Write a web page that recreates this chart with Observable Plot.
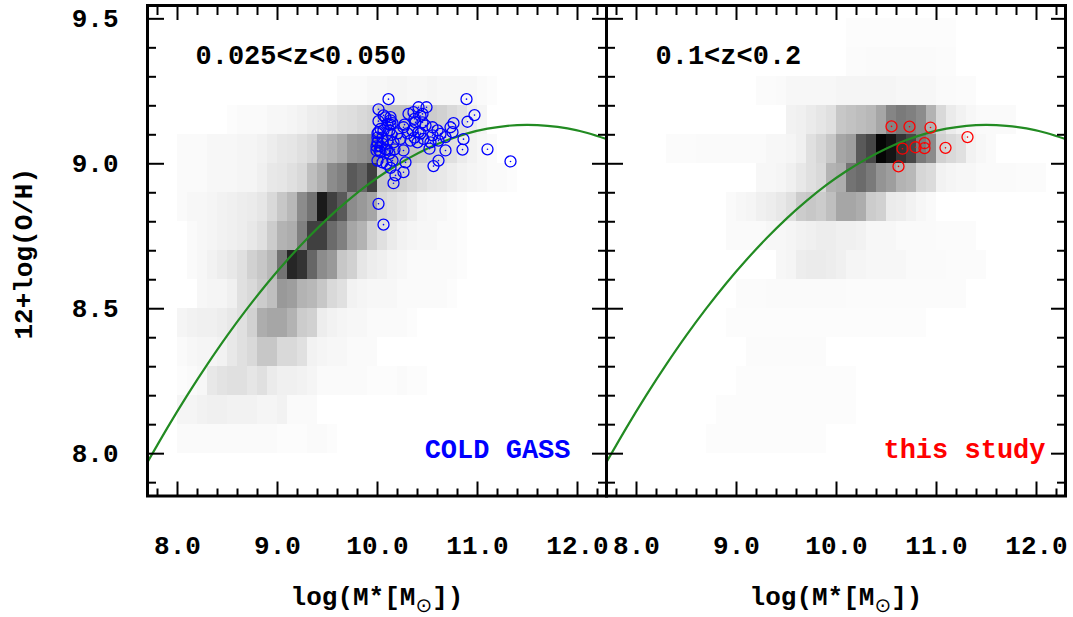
<!DOCTYPE html>
<html><head><meta charset="utf-8">
<script src="https://cdn.jsdelivr.net/npm/d3@7"></script>
<script src="https://cdn.jsdelivr.net/npm/@observablehq/plot@0.6"></script>
<style>
html,body{margin:0;padding:0;background:#fff;}
#chart svg{display:block;}
</style></head><body><div id="chart"></div>
<script>
// ---- axis ticks ----
const xMajor = [8, 9, 10, 11, 12];
const xMinor = [7.8, 8.2, 8.4, 8.6, 8.8, 9.2, 9.4, 9.6, 9.8, 10.2, 10.4, 10.6, 10.8, 11.2, 11.4, 11.6, 11.8, 12.2];
const yMajor = [8.0, 8.5, 9.0, 9.5];
const yMinor = [7.9, 8.1, 8.2, 8.3, 8.4, 8.6, 8.7, 8.8, 8.9, 9.1, 9.2, 9.3, 9.4];

// ---- 2D histogram (SDSS density, darkness 0-100) ----
// mass bins of 0.1 dex starting at 8.0 ; O/H rows of 0.1 dex (lower edges)
const massBinStart = 8.0, massBinWidth = 0.1, ohBinHeight = 0.1;
const ohRowsLeft = [9.2, 9.1, 9.0, 8.9, 8.8, 8.7, 8.6, 8.5, 8.4, 8.3, 8.2, 8.1, 8.0];
const densLeft = [
  [0,0,0,0,0,0,0,0,0,0,0,0,0,0,0,0,2,2,2,3,3,4,4,3,3,4,3,3,3,3,2,1],
  [0,0,0,0,0,1,2,2,2,3,3,4,5,7,8,10,12,13,15,17,22,24,24,22,20,20,18,15,12,7,4],
  [2,2,2,3,3,3,4,4,5,7,9,10,12,15,25,28,32,40,42,45,32,30,25,22,20,18,15,12,8,5,3,2],
  [2,2,2,3,3,3,4,4,6,9,10,12,15,25,32,45,50,65,60,75,22,20,18,15,12,10,9,7,5,4,3,2,2,1],
  [2,3,3,4,5,6,7,8,10,15,22,28,45,55,90,75,65,45,40,35,15,12,10,7,4,3,3,2,1],
  [0,2,3,4,5,6,7,9,12,20,30,32,50,75,75,58,50,35,30,18,12,8,5,4,3,3,2,2,1],
  [0,2,3,5,7,9,12,18,22,28,55,85,80,60,45,40,22,18,10,7,6,4,3,2,2,2,2,2,1],
  [0,0,3,4,4,6,12,15,20,25,40,38,30,28,22,15,12,5,4,3,3,3,2,2,2,2,2,1],
  [4,5,6,6,7,9,12,18,32,35,35,30,20,18,7,5,4,3,3,2,2,2,2,1],
  [2,3,4,4,5,9,12,15,22,22,15,15,12,5,4,3,3,2,2,2],
  [1,2,3,9,11,12,12,10,12,8,6,6,5,4,2,2,2,2,2,1,1,1,2,1,1],
  [4,4,5,6,6,5,5,5,4,4,5,2,2,2],
  [2,2,2,2,2,2,2,2,2,2,1,1,1,2,2,1]
];
const ohRowsRight = [9.4, 9.3, 9.2, 9.1, 9.0, 8.9, 8.8, 8.7, 8.6, 8.5, 8.4, 8.3, 8.2, 8.1, 8.0];
const densRight = [
  [0,0,0,0,0,0,0,0,0,0,0,0,0,0,0,0,0,0,0,0,0,1,1,1,1,1,1,1,1,1,1,1],
  [0,0,0,0,0,0,0,0,0,0,0,0,0,0,0,0,0,0,0,0,0,1.5,1.5,2,2,2,2,2,2,2,1.5,1.5],
  [0,0,0,0,0,0,0,0,0,0,0,0,1.5,1.5,2,3,3,3,3,3,4,4,4,4,4,4,3,3,3,3,2,2,1.5,1.5],
  [0,0,0,0,0,0,0,0,0,0,0,0,0,0,0,5,6,8,10,12,22,24,26,28,35,48,52,50,45,30,15,8,5,3,2,2,2,2],
  [0,0,0,1.5,1.5,1.5,2,2,2,2,2,2,2,3,3,4,6,12,16,22,35,38,65,72,98,92,80,72,52,45,18,15,12,5,3,2],
  [0,0,0,0,0,0,0,0,0,0,0,0,3,3,4,6,9,12,15,30,32,55,58,52,42,38,30,28,16,14,5,4,3,3,2,2,2,2,1.5,1.5,1.5],
  [0,0,0,0,0,0,0,0,0,2,3,4,6,7,9,12,20,22,20,25,35,35,32,20,18,8,7,5,3,2],
  [0,0,0,0,0,0,0,0,0,2,2,2,2,3,3,4,5,6,7,7,6,6,5,3,3,3,2,2,2,2,1.5,1.5,1.5,1.5],
  [0,0,0,0,0,0,0,0,0,0,0,0,0,0,3,4,7,8,8,7,6,4,4,3,3,3,3,2,2,2,2,1.5,1.5,1.5,1.5],
  [0,0,0,0,0,0,0,0,0,0,1.5,1.5,1.5,2,2,2,2,2,2,2,2,1.5,1.5,1.5,1.5,1.5,1.5,1.5,1.5,1.5,1.5,1.5,1.5],
  [0,0,0,0,0,0,0,0,0,1,1,1,1,1,1,1,1,1,1,1,1,1,1,1,1,1,1,1,1],
  [0,0,0,0,0,0,0,0,0,0,0,1.5,1.5,1.5,1.5,1.5,1.5,1.5,1.5],
  [0,0,0,0,0,0,0,0,0,0,1,1,1,1,1,1,1,1,1,1,1,1],
  [0,0,0,0,0,0,0,0,1,1,1,1,1,1,1,1,1,1,1,1,1,1],
  [0,0,0,0,0,0,0,1,1,1,1,1,1,1,1,1,1,1,1]
];

// ---- mass-metallicity relation (green curve) ----
const curveMass = [7.7,7.9,8.1,8.3,8.5,8.7,8.9,9.1,9.3,9.5,9.7,9.9,10.1,10.3,10.5,10.7,10.9,11.1,11.3,11.5,11.7,11.9,12.1,12.3];
const curveOH   = [7.971,8.090,8.203,8.309,8.409,8.502,8.589,8.669,8.743,8.811,8.872,8.927,8.975,9.017,9.053,9.082,9.105,9.121,9.131,9.134,9.131,9.122,9.106,9.084];

// ---- COLD GASS (blue) ----
const coldMass = [10.11,10.89,10.01,10.97,10.90,10.01,10.06,10.13,10.10,10.15,10.01,10.06,10.12,10.14,10.00,10.05,10.16,9.99,10.03,10.00,10.05,10.09,10.15,10.13,10.18,10.16,10.26,10.28,10.26,10.23,10.26,10.31,10.36,10.41,10.49,10.45,10.38,10.45,10.35,10.41,10.48,10.55,10.60,10.63,10.55,10.33,10.40,10.46,10.53,10.61,10.68,10.73,10.76,10.75,10.86,10.85,10.68,10.52,10.61,10.56,11.10,11.33,10.01,10.06,10.43,10.37,10.27,10.30,10.37,10.43,10.20,10.13,10.08,10.13,10.03,10.00,10.00,10.05,10.10,9.99,10.03,10.08,10.02,10.10,10.17,10.12];
const coldOH   = [9.223,9.223,9.188,9.168,9.145,9.147,9.167,9.161,9.138,9.140,9.109,9.115,9.115,9.100,9.074,9.069,9.074,9.046,9.040,9.011,9.005,9.000,9.011,8.986,8.960,8.933,8.971,9.005,9.046,9.086,9.126,9.172,9.178,9.195,9.195,9.172,9.143,9.143,9.115,9.109,9.132,9.126,9.115,9.103,9.098,9.080,9.074,9.086,9.074,9.080,9.092,9.126,9.140,9.109,9.085,9.049,9.046,9.052,9.011,8.992,9.050,9.008,8.862,8.790,9.165,9.155,9.135,9.105,9.090,9.105,9.105,9.150,9.160,9.135,9.120,9.105,9.090,9.090,9.080,9.060,9.060,9.050,9.045,9.048,9.050,9.035];

// ---- this study (red) ----
const studyMass = [10.55,10.73,10.94,11.31,10.66,10.79,10.88,10.88,11.09,10.62];
const studyOH   = [9.129,9.128,9.125,9.092,9.052,9.057,9.071,9.054,9.055,8.991];

// ---- build tables ----
function cells(panel, rows, dens) {
  const out = [];
  rows.forEach((oh, i) => dens[i].forEach((v, j) => {
    if (v > 0) out.push({panel, x1: massBinStart + j * massBinWidth, x2: massBinStart + (j + 1) * massBinWidth, y1: oh, y2: oh + ohBinHeight, v});
  }));
  return out;
}
const histCells = cells("L", ohRowsLeft, densLeft).concat(cells("R", ohRowsRight, densRight));
const curve = curveMass.map((m, i) => ({x: m, y: curveOH[i]}));
const cold = coldMass.map((m, i) => ({x: m, y: coldOH[i]}));
const study = studyMass.map((m, i) => ({x: m, y: studyOH[i]}));

const GREEN = "#228b22", BLUE = "#0000ff", RED = "#ff0000";

const chart = Plot.plot({
  width: 1073, height: 617,
  marginLeft: 147, marginRight: 8, marginTop: 5, marginBottom: 121.5,
  style: {fontFamily: "'Liberation Mono','DejaVu Sans Mono',monospace", fontWeight: "bold", fontSize: "26px", color: "black", background: "white", overflow: "visible"},
  fx: {domain: ["L", "R"], padding: 0, axis: null, round: false},
  x: {domain: [7.7, 12.29]},
  y: {domain: [7.854, 9.546]},
  color: {type: "linear", domain: [0, 100], range: ["#ffffff", "#000000"]},
  marks: [
    Plot.rect(histCells, {x1: "x1", x2: "x2", y1: "y1", y2: "y2", fill: "v", fx: "panel", inset: 0, shapeRendering: "crispEdges"}),
    Plot.line(curve, {x: "x", y: "y", stroke: GREEN, strokeWidth: 2.2, curve: "natural", clip: true}),
    Plot.dot(cold, {x: "x", y: "y", fx: () => "L", r: 5.5, stroke: BLUE, strokeWidth: 1.3, fill: "none"}),
    Plot.dot(cold, {x: "x", y: "y", fx: () => "L", r: 0.8, fill: BLUE, stroke: null}),
    Plot.dot(study, {x: "x", y: "y", fx: () => "R", r: 5.5, stroke: RED, strokeWidth: 1.3, fill: "none"}),
    Plot.dot(study, {x: "x", y: "y", fx: () => "R", r: 0.8, fill: RED, stroke: null}),
    Plot.frame({strokeWidth: 3}),
    // inward ticks, all four sides of each panel
    Plot.axisX(xMajor, {anchor: "bottom", tickSize: -14, strokeWidth: 2, fill: "none", label: null}),
    Plot.axisX(xMinor, {anchor: "bottom", tickSize: -7, strokeWidth: 2, fill: "none", label: null}),
    Plot.axisX(xMajor, {anchor: "top", tickSize: -14, strokeWidth: 2, fill: "none", label: null}),
    Plot.axisX(xMinor, {anchor: "top", tickSize: -9, strokeWidth: 2, fill: "none", label: null}),
    Plot.axisY(yMajor, {anchor: "left", tickSize: -17, strokeWidth: 2, fill: "none", label: null, facetAnchor: null}),
    Plot.axisY(yMinor, {anchor: "left", tickSize: -9, strokeWidth: 2, fill: "none", label: null, facetAnchor: null}),
    Plot.axisY(yMajor, {anchor: "right", tickSize: -15, strokeWidth: 2, fill: "none", label: null, facetAnchor: null}),
    Plot.axisY(yMinor, {anchor: "right", tickSize: -9, strokeWidth: 2, fill: "none", label: null, facetAnchor: null}),
    // tick labels
    Plot.axisX(xMajor, {anchor: "bottom", tickSize: 0, tickPadding: 40, tickFormat: d3.format(".1f"), label: null, fontSize: 26}),
    Plot.axisY(yMajor, {anchor: "left", tickSize: 0, tickPadding: 29, tickFormat: d3.format(".1f"), label: null, fontSize: 26}),
    // axis titles
    Plot.text(["L", "R"], {fx: d => d, text: () => "log(M*[M\u2609])", frameAnchor: "bottom", dy: 101, lineAnchor: "middle", fontSize: 26}),
    Plot.text(["12+log(O/H)"], {fx: () => "L", frameAnchor: "left", rotate: -90, dx: -124, dy: 3, textAnchor: "middle", lineAnchor: "middle", fontSize: 26}),
    // panel annotations
    Plot.text(["0.025<z<0.050"], {fx: () => "L", frameAnchor: "top-left", textAnchor: "start", lineAnchor: "middle", dx: 48, dy: 50, fontSize: 27}),
    Plot.text(["0.1<z<0.2"], {fx: () => "R", frameAnchor: "top-left", textAnchor: "start", lineAnchor: "middle", dx: 49, dy: 50, fontSize: 27}),
    Plot.text(["COLD GASS"], {fx: () => "L", frameAnchor: "bottom-right", textAnchor: "end", lineAnchor: "middle", dx: -36, dy: -47, fontSize: 27, fill: BLUE}),
    Plot.text(["this study"], {fx: () => "R", frameAnchor: "bottom-right", textAnchor: "end", lineAnchor: "middle", dx: -20, dy: -47, fontSize: 27, fill: RED})
  ]
});

// subscript solar symbol in the mass label
const NS = "http://www.w3.org/2000/svg";
chart.querySelectorAll("text").forEach(t => {
  const s = t.textContent;
  if (s.includes("\u2609")) {
    const [a, b] = s.split("\u2609");
    t.textContent = "";
    const t1 = document.createElementNS(NS, "tspan"); t1.textContent = a; t.appendChild(t1);
    const t2 = document.createElementNS(NS, "tspan"); t2.textContent = "\u2299";
    t2.setAttribute("dy", "7"); t2.setAttribute("font-size", "20"); t2.setAttribute("font-weight", "normal"); t2.setAttribute("font-family", "DejaVu Sans");
    t.appendChild(t2);
    const t3 = document.createElementNS(NS, "tspan"); t3.textContent = b; t3.setAttribute("dy", "-7"); t.appendChild(t3);
  }
});
document.getElementById("chart").appendChild(chart);
</script>
</body></html>
